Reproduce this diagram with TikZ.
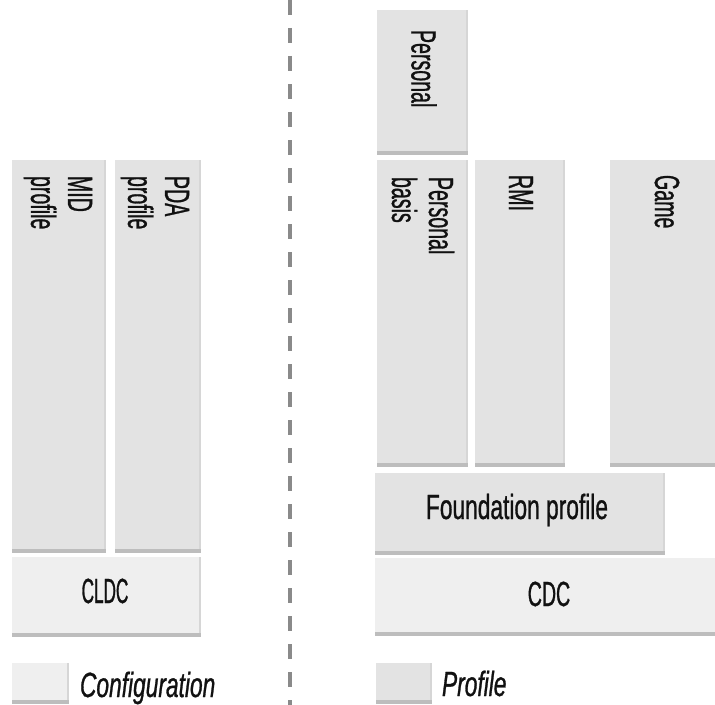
\documentclass[tikz,border=0pt]{standalone}
\usepackage{fontspec}
\setmainfont{Liberation Sans}[FakeStretch=0.56, FakeBold=0.8]
\newfontfamily\widefont{Liberation Sans}[FakeStretch=0.65, FakeBold=0.8]
\newfontfamily\tightfont{Liberation Sans}[FakeStretch=0.49, FakeBold=0.8]
\definecolor{cfgfill}{HTML}{EFEFEF}
\definecolor{proffill}{HTML}{E3E3E3}
\definecolor{edgecol}{HTML}{BDBDBD}
\definecolor{sidecol}{HTML}{D6D6D6}
\definecolor{dashcol}{HTML}{8A8A8A}
\definecolor{inkcol}{HTML}{111111}
\tikzset{
  slab/.style={rectangle, inner sep=0pt, outer sep=0pt, draw=none, anchor=north west,
    path picture={
      \fill[sidecol] ([xshift=-2bp]path picture bounding box.south east) rectangle (path picture bounding box.north east);
      \fill[edgecol] (path picture bounding box.south west) rectangle ([yshift=4bp]path picture bounding box.south east);
    }},
  cfgbox/.style={slab, fill=cfgfill},
  profbox/.style={slab, fill=proffill},
  lbl/.style={inner sep=0pt, outer sep=0pt, text=inkcol, font=\fontsize{35bp}{37bp}\selectfont},
  vlbl/.style={lbl, rotate=-90, anchor=west, align=left},
  widelbl/.style={lbl, font=\fontsize{35bp}{37bp}\selectfont\widefont},
  keylbl/.style={lbl, anchor=base west, font=\fontsize{35bp}{37bp}\selectfont\widefont\itshape},
  divider/.style={draw=dashcol, line width=4bp, dash pattern=on 15bp off 13bp}
}
\begin{document}
\begin{tikzpicture}[x=1bp, y=-1bp]
\useasboundingbox (0,0) rectangle (715,705);
\clip (0,0) rectangle (715,705);
% left side: configuration CLDC and its profiles
\node[profbox, minimum width=94bp, minimum height=393bp] (mid) at (12,160) {};
\node[profbox, minimum width=86bp, minimum height=393bp] (pda) at (115,160) {};
\node[cfgbox, minimum width=189bp, minimum height=80bp] (cldc) at (12,557) {};
\node[vlbl] (midt) at (58,176) {MID\\profile};
\node[vlbl] (pdat) at (155,176) {PDA\\profile};
\node[lbl, font=\fontsize{35bp}{37bp}\selectfont\tightfont] (cldct) at (105,591) {CLDC};
% divider
\coordinate (dtop) at (290,0);
\coordinate (dbot) at (290,705);
\draw[divider] (dtop) -- (dbot);
% right side: configuration CDC and its profiles
\node[profbox, minimum width=91bp, minimum height=145bp] (pers) at (377,10) {};
\node[profbox, minimum width=91bp, minimum height=307bp] (pbasis) at (377,160) {};
\node[profbox, minimum width=90bp, minimum height=307bp] (rmi) at (475,160) {};
\node[profbox, minimum width=114bp, minimum height=307bp] (game) at (610,160) {};
\node[profbox, minimum width=290bp, minimum height=82bp] (found) at (375,473) {};
\node[cfgbox, minimum width=345bp, minimum height=78bp] (cdc) at (375,558) {};
\node[vlbl] (perst) at (424,30) {Personal};
\node[vlbl] (pbasist) at (423,177) {Personal\\basis};
\node[vlbl] (rmit) at (521,175) {RMI};
\node[vlbl] (gamet) at (667,175) {Game};
\node[widelbl, anchor=base] (foundt) at (517,519) {Foundation profile};
\node[lbl] (cdct) at (549,594) {CDC};
% legend
\node[cfgbox, minimum width=57bp, minimum height=41bp] (cfgkey) at (12,663) {};
\node[keylbl] (cfgkeyt) at (80,697) {Configuration};
\node[profbox, minimum width=56bp, minimum height=41bp] (profkey) at (376,663) {};
\node[keylbl] (profkeyt) at (442,696) {Profile};
\end{tikzpicture}
\end{document}
